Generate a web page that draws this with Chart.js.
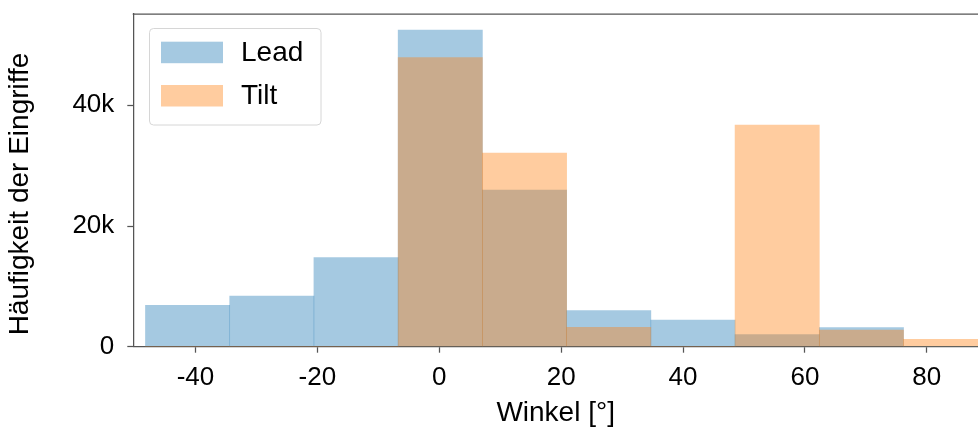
<!DOCTYPE html>
<html>
<head>
<meta charset="utf-8">
<script src="https://cdn.jsdelivr.net/npm/chart.js@4.4.1/dist/chart.umd.min.js"></script>
<style>
  html, body { margin: 0; padding: 0; background: #ffffff; }
  #wrap { width: 978px; height: 430px; position: relative; }
</style>
</head>
<body>
<div id="wrap"><canvas id="c" width="978" height="430"></canvas></div>
<script>
// Histogram bin centres (Winkel in degrees), bin width ~13.82
const binCenters = [-41.29, -27.47, -13.65, 0.17, 13.99, 27.81, 41.63, 55.45, 69.27, 83.09];
// Counts per bin
const leadCounts = [6860, 8400, 14750, 52480, 25970, 5970, 4420, 1990, 3150, 0];
const tiltCounts = [0, 0, 0, 47890, 32100, 3210, 0, 36740, 2770, 1230];
const seriesNames = ['Lead', 'Tilt'];
const xTickValues = [-40, -20, 0, 20, 40, 60, 80];
const yTickValues = [0, 20000, 40000];
const xTitle = 'Winkel [°]';
const yTitle = 'Häufigkeit der Eingriffe';

const leadColor = 'rgba(31,119,180,0.4)';
const tiltColor = 'rgba(255,127,14,0.4)';
const axisColor = '#555555';
const FONT = '"Liberation Sans", Arial, Helvetica, sans-serif';

const decorations = {
  id: 'decorations',
  afterDraw(chart) {
    const ctx = chart.ctx;
    const a = chart.chartArea;
    ctx.save();
    // top spine
    ctx.strokeStyle = axisColor;
    ctx.lineWidth = 1.25;
    ctx.beginPath();
    ctx.moveTo(a.left - 0.6, a.top);
    ctx.lineTo(a.right, a.top);
    ctx.stroke();
    // y axis title
    ctx.save();
    ctx.translate(20.5, 194);
    ctx.rotate(-Math.PI / 2);
    ctx.font = '28px ' + FONT;
    ctx.fillStyle = '#000';
    ctx.textAlign = 'center';
    ctx.textBaseline = 'middle';
    ctx.fillText(yTitle, 0, 0);
    ctx.restore();
    // legend box
    const bx = 149.5, by = 28.5, bw = 171.5, bh = 96.5, r = 4;
    ctx.fillStyle = 'rgba(255,255,255,0.8)';
    ctx.strokeStyle = '#d6d6d6';
    ctx.lineWidth = 1;
    ctx.beginPath();
    ctx.moveTo(bx + r, by);
    ctx.lineTo(bx + bw - r, by);
    ctx.quadraticCurveTo(bx + bw, by, bx + bw, by + r);
    ctx.lineTo(bx + bw, by + bh - r);
    ctx.quadraticCurveTo(bx + bw, by + bh, bx + bw - r, by + bh);
    ctx.lineTo(bx + r, by + bh);
    ctx.quadraticCurveTo(bx, by + bh, bx, by + bh - r);
    ctx.lineTo(bx, by + r);
    ctx.quadraticCurveTo(bx, by, bx + r, by);
    ctx.closePath();
    ctx.fill();
    ctx.stroke();
    const items = chart.data.datasets;
    ctx.font = '28px ' + FONT;
    ctx.textBaseline = 'middle';
    ctx.textAlign = 'left';
    items.forEach((ds, i) => {
      const sy = 41.7 + i * 43.3;
      ctx.fillStyle = ds.backgroundColor;
      ctx.fillRect(161, sy, 62, 21.5);
      ctx.fillStyle = '#000000';
      ctx.fillText(ds.label, 241, sy + 11.5);
    });
    ctx.restore();
  }
};

const toPoints = (vals) => vals.map((v, i) => ({ x: binCenters[i], y: v }));

new Chart(document.getElementById('c'), {
  type: 'bar',
  data: {
    datasets: [
      { label: seriesNames[0], data: toPoints(leadCounts), backgroundColor: leadColor, borderWidth: 0, grouped: false, order: 2 },
      { label: seriesNames[1], data: toPoints(tiltCounts), backgroundColor: tiltColor, borderWidth: 0, grouped: false, order: 1 }
    ]
  },
  options: {
    responsive: false,
    animation: false,
    events: [],
    layout: { padding: { top: 14, left: 0, right: 0, bottom: 0 } },
    datasets: { bar: { barPercentage: 1, categoryPercentage: 1 } },
    plugins: { legend: { display: false }, tooltip: { enabled: false } },
    scales: {
      x: {
        type: 'linear',
        offset: false,
        min: -50.2,
        max: 88.4,
        afterFit(s) { s.height = 83.3; s.paddingLeft = 0; s.paddingRight = 0; },
        afterBuildTicks(s) { s.ticks = xTickValues.map(v => ({ value: v })); },
        ticks: { color: '#000', font: { family: FONT, size: 26 }, padding: 10, maxRotation: 0, autoSkip: false },
        grid: { offset: false, drawOnChartArea: false, drawTicks: true, tickLength: 6, tickColor: axisColor, tickWidth: 1.25 },
        border: { display: true, color: axisColor, width: 1.25 },
        title: { display: true, text: xTitle, color: '#000', font: { family: FONT, size: 28 }, padding: { top: 0, bottom: 0 } }
      },
      y: {
        type: 'linear',
        min: 0,
        max: 55130,
        afterFit(s) { s.width = 133.3; s.paddingTop = 0; s.paddingBottom = 0; },
        afterBuildTicks(s) { s.ticks = yTickValues.map(v => ({ value: v })); },
        ticks: {
          color: '#000', font: { family: FONT, size: 26 }, padding: 13,
          callback: (v) => v === 0 ? '0' : (v / 1000) + 'k'
        },
        grid: { drawOnChartArea: false, drawTicks: true, tickLength: 6, tickColor: axisColor, tickWidth: 1.25 },
        border: { display: true, color: axisColor, width: 1.25 },
        title: { display: false }
      }
    }
  },
  plugins: [decorations]
});
</script>
</body>
</html>
